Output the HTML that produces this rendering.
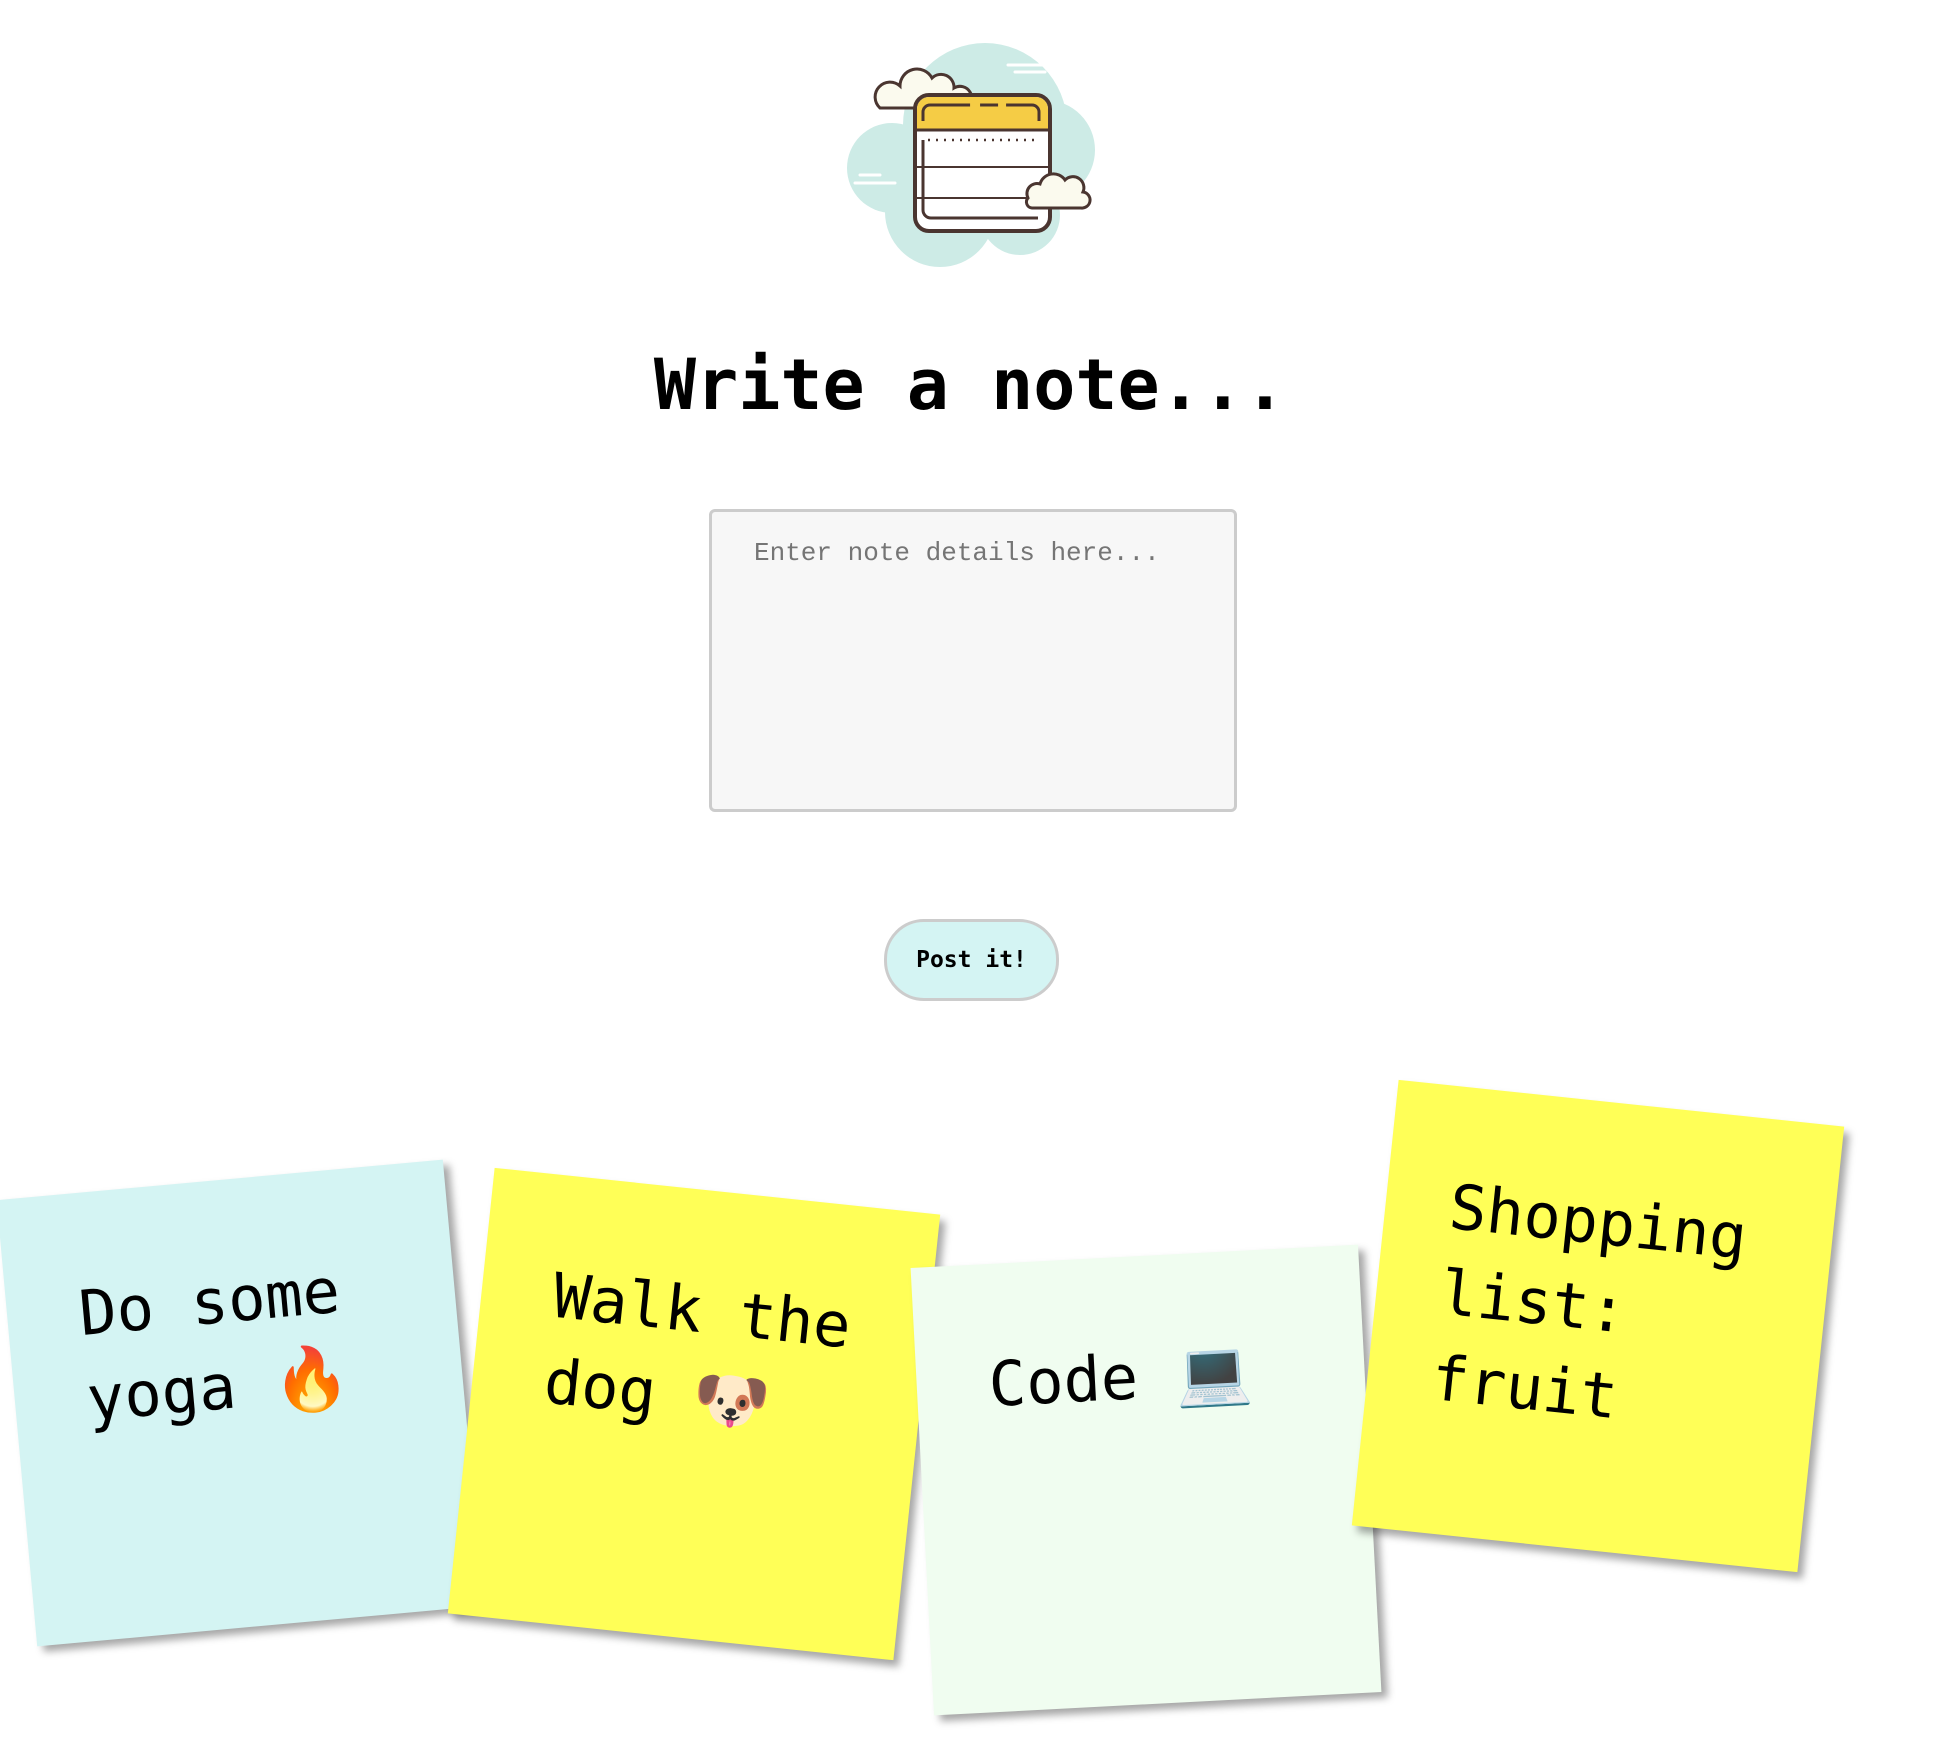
<!DOCTYPE html>
<html><head><meta charset="utf-8"><style>
html,body{margin:0;padding:0;background:#fff;width:1940px;height:1760px;overflow:hidden;position:relative;font-family:"DejaVu Sans Mono","Liberation Mono",monospace}
.abs{position:absolute}
h1{position:absolute;left:0;width:1940px;top:340px;margin:0;text-align:center;font-family:"DejaVu Sans Mono",monospace;font-weight:bold;font-size:70px;line-height:90px;color:#000}
.ta{left:709px;top:509px;width:522px;height:297px;border:3px solid #ccc;border-radius:6px;background:#f7f7f7}
.ph{position:absolute;left:42px;top:26px;font-family:"Liberation Mono",monospace;font-size:26px;color:#757575}
.btn{left:884px;top:919px;width:169px;height:76px;border:3px solid #ccc;border-radius:40px;background:#d4f4f3;text-align:center;line-height:76px;font-family:"DejaVu Sans Mono",monospace;font-weight:bold;font-size:23px;color:#000}
.note{position:absolute;width:448px;height:448px;box-shadow:6px 6px 8px rgba(0,0,0,0.35);font-family:"DejaVu Sans Mono",monospace;font-size:62px;line-height:86px;color:#000;box-sizing:border-box;padding:78px 60px 0 72px}
</style></head><body>
<svg class="abs" style="left:820px;top:20px" width="320" height="260" viewBox="0 0 320 260">
 <g fill="#cdebe6">
  <circle cx="165" cy="105" r="82"/><circle cx="72" cy="148" r="45"/><circle cx="225" cy="130" r="50"/>
  <circle cx="120" cy="192" r="55"/><circle cx="200" cy="195" r="40"/>
 </g>
 <g stroke="#fff" stroke-width="3" stroke-linecap="round"><line x1="188" y1="45" x2="230" y2="45"/><line x1="195" y1="52" x2="225" y2="52"/><line x1="40" y1="155" x2="60" y2="155"/><line x1="35" y1="163" x2="75" y2="163"/></g>
 <path d="M60 88 a12 12 0 0 1 20 -22 a17 17 0 0 1 32 -8 a13 13 0 0 1 22 10 a10 10 0 0 1 12 20 z" fill="#fbfaee" stroke="#4a3530" stroke-width="3"/>
 <rect x="95" y="75" width="135" height="136" rx="14" fill="#fff" stroke="#4a3530" stroke-width="4"/>
 <path d="M97 110 V89 a12 12 0 0 1 12 -12 H216 a12 12 0 0 1 12 12 V110 z" fill="#f5cc45"/>
 <line x1="95" y1="110" x2="230" y2="110" stroke="#4a3530" stroke-width="3"/>
 <path d="M103 101 V92 a7 7 0 0 1 7 -7 H212 a7 7 0 0 1 7 7 V101" fill="none" stroke="#4a3530" stroke-width="3" stroke-dasharray="60 10 18 8"/>
 <line x1="108" y1="120" x2="218" y2="120" stroke="#4a3530" stroke-width="2.5" stroke-dasharray="2 6"/>
 <line x1="95" y1="147" x2="230" y2="147" stroke="#4a3530" stroke-width="2"/>
 <line x1="95" y1="178" x2="230" y2="178" stroke="#4a3530" stroke-width="2"/>
 <path d="M103 120 V190 a8 8 0 0 0 8 8 H218" fill="none" stroke="#4a3530" stroke-width="3"/>
 <path d="M208 178 a10 10 0 0 1 12 -14 a14 14 0 0 1 25 -4 a11 11 0 0 1 18 12 a8 8 0 0 1 -2 16 H212 a6 6 0 0 1 -4 -10 z" fill="#fbfaee" stroke="#4a3530" stroke-width="3"/>
</svg>
<h1>Write a note...</h1>
<div class="abs ta"><div class="ph">Enter note details here...</div></div>
<div class="abs btn">Post it!</div>
<div class="note" style="left:16px;top:1179px;background:#d4f4f3;transform:rotate(-5.2deg)">Do some<br>yoga 🔥</div>
<div class="note" style="left:470px;top:1190px;background:#ffff57;transform:rotate(6deg)">Walk the<br>dog 🐶</div>
<div class="note" style="left:922px;top:1256px;background:#f0fdf0;transform:rotate(-3deg)">Code 💻</div>
<div class="note" style="left:1374px;top:1102px;background:#ffff57;transform:rotate(6deg);padding-left:64px">Shopping<br>list:<br>fruit</div>
</body></html>
